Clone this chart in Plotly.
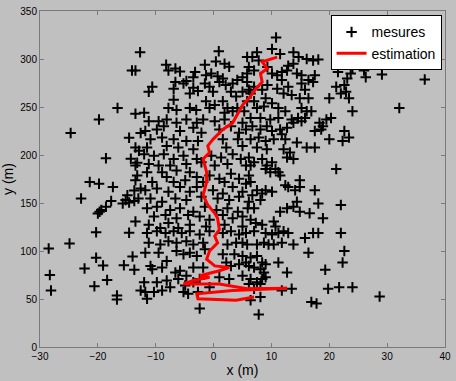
import plotly.graph_objects as go

# measured points (x, y) in metres
mesures = [
(-12.7,307),(-14.1,288),(-13.5,288),(-11.2,266),(-16.6,249),(-13.5,243),(-12.0,244),(-19.8,237),
(0.9,308),(0.4,297.5),(-8.2,294),(-6.6,290),(-5.8,287),(-7.8,288),(-1.5,294),(1.9,295),(2.7,292),(-3.2,286.5),(-0.4,285),(0.7,282),(1.6,279.6),(-3.5,281),(-1.3,283),(-10.6,271),(-6.6,276),(-5.2,274.5),(-4.7,277),(-6.9,269),(-3.5,270),(-2.7,266.7),(-4.1,264),(-1.5,274.5),(-0.7,271),(-0.1,266),(1.0,276),(2.1,273),(3.3,274.5),(4.1,278),(5.0,281),(3.0,266),(3.9,261),(5.0,266),(6.1,268),(-6.9,257.5),(-7.8,249),(-6.4,247),(-4.1,249),(-3.0,247),(-1.3,256),(-0.7,249),(0.2,252),(1.6,256),(2.4,249),(3.3,245.5),(1.9,244),(4.1,249),(5.3,245.5),(5.8,256),
(10.8,322.5),(10.1,310.5),(11.5,305.3),(13.8,307),(7.5,307),(6.7,302),(7.8,298.5),(14.7,302),(16.1,300),(17.2,298.5),(18.1,299.6),(12.9,293),(13.8,295),(12.7,288),(5.8,302),(6.1,291.7),(7.0,288),(5.8,285),(9.3,291.7),(10.1,285),(11.0,283),(11.8,286.5),(11.8,278),(14.4,285),(15.2,283),(16.4,278),(15.2,274.5),(17.5,283),(17.2,276),(21.5,286.5),(22.9,295),(24.0,290),(9.3,273),(8.4,268),(7.0,271),(11.0,269),(12.9,271),(12.1,264),(13.5,262.6),(15.8,268),(14.9,259),(16.4,259),(21.2,271),(22.6,273),(22.9,266),(22.0,264),(20.0,259),(9.0,259),(10.1,254),(8.7,250.6),(7.0,256),(7.5,249),(11.2,249),(12.4,245.5),(15.2,249),(16.1,245.5),(16.9,245.5),(24.0,245.5),(5.8,276),(6.4,264),
(24.6,301),(25.7,303),(26.8,305),(23.7,285),(23.1,279.6),(26.0,288),(26.3,281),(29.1,283.8),(36.5,278.6),(23.4,259),(32.1,249),
(-24.7,223),(-14.6,218),(-12.6,223),(-13.5,207.8),(-12.9,204.4),(-18.6,196.5),(-14.3,196),(-13.2,192),(-13.5,189),(-13.2,178.7),(-13.5,173.6),(-21.4,171.8),(-19.8,170),(-17.4,166.7),(-13.7,163),(-12.6,165),(-22.9,154.8),(-17.7,152),(-14.9,158),(-15.2,153),(-15.7,149.6),(-14.6,150.6),(-13.7,152),(-13.0,154.8),(-19.7,141),(-20.0,139),(-19.4,142.7),(-18.6,146),(-13.5,130.7),(-20.3,119.5),(-14.6,119),
(-11.2,235.2),(-9.5,235.2),(-8.1,236.9),(-6.4,233.5),(-4.7,236.9),(-2.9,233.5),(-1.8,236.9),(0.2,235.2),(1.9,236.9),(5.0,233.5),
(-11.8,224.9),(-9.8,226.6),(-8.6,230),(-5.8,224.9),(-3.5,228.3),(-2.1,223.2),(1.0,226.6),(3.0,230),(4.4,223.2),(5.6,226.6),
(-10.9,216.3),(-8.9,218.1),(-6.9,216.3),(-4.7,214.6),(-2.7,214.6),(1.6,216.3),(4.2,216.3),(-11.5,207.8),(-8.1,209.5),(-6.1,207.8),(-3.5,206.1),(2.2,207.8),(5.0,209.5),
(-12.0,200.9),(-10.3,199.2),(-8.6,200.9),(-6.9,195.8),(-5.2,199.2),(-2.9,195.8),(-0.4,199.2),(1.3,197.5),(3.3,200.9),(4.7,195.8),(-11.2,190.7),(-9.5,189),(-7.5,189),(-4.7,190.7),(-2.1,192.4),(0.2,189),(2.4,190.7),(5.6,189),
(-11.5,182.1),(-8.9,182.1),(-8.1,177),(-6.4,183.8),(-4.1,182.1),(-2.9,177),(-0.7,178.7),(1.0,175.3),(3.0,180.4),(4.4,175.3),(6.1,178.7),(-10.6,171.8),(-6.9,171.8),(-4.9,173.6),(-1.8,171.8),(1.9,171.8),(5.6,170.1),
(-11.8,163.3),(-9.8,165),(-7.8,161.6),(-5.8,166.7),(-4.1,161.6),(-2.9,166.7),(-0.1,163.3),(1.6,159.9),(3.3,166.7),(5.0,161.6),(-10.9,154.7),(-8.9,151.3),(-6.6,154.7),(-4.7,153),(-2.1,156.4),(0.7,154.7),(2.7,153),(4.4,156.4),
(-11.5,144.5),(-9.8,146.2),(-7.5,142.7),(-5.8,144.5),(-3.5,141),(-1.5,146.2),(0.5,142.7),(2.4,144.5),(4.2,141),(5.9,144.5),(-10.3,135.9),(-8.3,137.6),(-6.4,134.2),(-4.4,137.6),(-2.4,135.9),(-0.7,132.5),(1.6,137.6),(3.3,134.2),(5.0,135.9),
(-11.2,127.3),(-9.2,123.9),(-7.8,129.1),(-6.1,123.9),(-4.1,127.3),(-1.3,125.6),(1.9,127.3),(5.0,125.6),
(6.4,238.6),(8.1,238.6),(9.8,236.9),(11.2,238.6),(13.5,236.9),(14.6,238.6),(15.8,238.6),(18.3,233.5),(19.5,236.9),(20.3,238.6),
(6.7,230),(8.1,226.6),(9.2,230),(10.1,224.9),(11.5,226.6),(12.7,228.3),(13.8,233.5),(15.2,235.2),(17.5,224.9),(18.6,226.6),(18.9,230),(22.6,224.9),(23.4,218.1),(22.3,214.6),
(6.4,216.3),(7.8,218.1),(9.0,214.6),(10.4,216.3),(11.8,221.5),(12.4,216.3),(14.4,212.9),(16.1,207.8),(17.5,207.8),(20.0,216.3),
(7.5,207.8),(9.2,206.1),(12.1,206.1),(13.2,202.6),(13.8,195.8),(12.7,197.5),
(6.1,197.5),(7.0,192.4),(6.4,189),(8.4,195.8),(9.2,189),(10.1,192.4),(10.7,185.5),(11.2,182.1),(11.5,178.7),(9.0,185.5),(9.8,182.1),
(21.2,185.5),
(6.4,171.8),(7.5,163.3),(8.4,159.9),(9.0,163.3),(10.1,161.6),(6.7,158.2),(12.4,168.4),(12.9,166.7),(14.1,163.3),(14.9,173.6),(14.9,166.7),(17.5,163.3),(18.1,149.6),(22.0,147.9),
(6.1,151.3),(7.0,144.5),(8.1,153),(11.5,141),(12.7,144.5),(13.8,146.2),(14.4,151.3),(14.9,141),(16.6,139.3),(18.9,134.2),
(6.4,132.5),(7.3,129.1),(8.4,127.3),(10.4,130.8),(10.7,125.6),
(-28.5,102.7),(-24.9,107.8),(-20.3,93),(-19.1,85),(-22.3,81.9),(-28.3,75),(-28.1,58.9),(-15.5,85.2),(-14.0,94.2),(-13.7,80.4),(-18.4,69.8),(-20.6,63.4),(-16.7,53.7),(-16.7,49.6),(-12.6,58.9),(-11.8,57.2),
(-11.5,118.8),(-9.8,120.5),(-8.3,118.8),(-6.9,120.5),(-5.5,118.8),(-4.1,120.5),(-2.4,117.1),(-0.7,120.5),(1.6,118.8),(3.0,120.5),(4.4,117.1),(5.6,118.8),
(-11.2,108.5),(-9.2,106.8),(-7.8,110.2),(-6.4,108.5),(-4.7,110.2),(-3.5,106.8),(-1.8,108.5),(2.4,106.8),(3.9,108.5),(5.0,108.5),
(-11.8,98.2),(-9.5,98.2),(-8.1,89.7),(-6.4,100),(-5.2,96.5),(-4.1,98.2),(-2.9,94.8),(-1.5,101.7),(1.6,96.5),(3.6,96.5),(5.0,94.8),
(-10.6,81.1),(-10.9,84.5),(-8.9,82.8),(-6.6,77.7),(-5.8,79.4),(-4.7,74.3),(-3.5,82.8),(-1.8,82.8),(2.2,88),(3.0,84.5),(4.4,86.3),(5.6,88),
(-12.0,67.4),(-9.8,67.4),(-8.1,69.2),(-7.5,62.3),(-6.1,70.9),(-4.9,64),(-3.5,67.4),(-2.4,70.9),(1.0,72.6),(2.7,70.9),(5.0,74.3),(6.1,65.7),
(-11.5,50.3),(-10.3,57.2),(-8.9,58.9),(-5.2,57.2),(-4.4,55.5),(-2.7,57.2),(-0.7,62.3),
(-2.4,40.0),
(7.0,120.5),(9.0,118.8),(10.1,117.1),(11.2,118.8),(12.1,120.5),(12.9,118.8),(15.8,113.6),(17.2,118.8),(18.1,118.8),(22.0,118.8),
(5.8,106.8),(7.5,106.8),(8.7,108.5),(9.5,106.8),(10.4,106.8),(11.8,108.5),(13.8,106.8),(16.4,98.2),(22.6,100),(22.3,88),
(6.4,93.1),(7.5,94.8),(8.4,88),(9.0,86.3),(11.2,88),(6.1,84.5),(7.0,82.8),(8.1,81.1),(8.7,77.7),(12.7,77.7),(19.3,80.4),
(6.4,70.9),(7.5,67.4),(8.4,70.9),(9.0,72.6),(8.1,65.7),(7.0,60.6),
(11.8,58.9),(13.5,60.6),(19.8,60.6),(21.7,62.3),(24.0,62.3),
(8.1,52),(6.4,48.6),(16.9,46.9),(17.8,45.2),
(7.8,33.9),
(28.7,52.7),
]

# estimated trajectory (x, y) in metres
estimation = [
(7.0,52),(3.9,48.6),(-2.7,50.3),(-2.9,55.5),(3.3,58.9),(12.7,61.3),(5.8,60.6),(1.0,65.7),
(-5.2,65.7),(-3.5,69.2),(-0.7,72.6),(-2.4,74.3),(1.0,79.4),(2.7,82.8),(0.2,84.5),(-1.2,91.4),
(-0.7,100),(0.7,108.5),(0.2,115.4),(1.0,122.2),(0.7,134.2),(0.2,139.3),(-1.0,147.9),(-1.8,158.2),
(-1.2,171.8),(-1.2,182.1),(-1.5,189),(-1.8,195.8),(-0.7,202.6),(-1.0,209.5),(-0.1,216.3),(1.6,226.6),
(3.3,233.5),(3.9,240.3),(5.0,252),(6.1,259),(7.3,269),(8.4,276),(8.1,285),(9.3,290),(8.4,297),(11.0,302),
]

x_ticks = [-30, -20, -10, 0, 10, 20, 30, 40]
y_ticks = [0, 50, 100, 150, 200, 250, 300, 350]

mx = [p[0] for p in mesures]
my = [p[1] for p in mesures]
ex = [p[0] for p in estimation]
ey = [p[1] for p in estimation]

FONT = "Liberation Sans, Arial, sans-serif"
BG = "#c0c0c0"
AX = "#7a7a7a"

fig = go.Figure()
fig.add_trace(go.Scatter(
    x=mx, y=my, mode="markers", name="mesures",
    marker=dict(symbol="cross-thin", size=7.5, color="black",
                line=dict(width=2, color="black")),
))
fig.add_trace(go.Scatter(
    x=ex, y=ey, mode="lines", name="estimation",
    line=dict(color="#ff0000", width=3),
))

axis_common = dict(
    showline=True, linecolor=AX, linewidth=1, mirror="ticks",
    ticks="inside", ticklen=4, tickcolor=AX, tickwidth=1,
    showgrid=False, zeroline=False,
    tickfont=dict(family=FONT, size=10, color="black"),
)

fig.update_layout(
    width=456, height=381,
    margin=dict(l=40, r=5, t=10, b=32),
    paper_bgcolor=BG, plot_bgcolor=BG,
    font=dict(family=FONT, color="black"),
    xaxis=dict(range=[-30, 40], tickvals=x_ticks,
               title=dict(text="x (m)", font=dict(size=14), standoff=4),
               **axis_common),
    yaxis=dict(range=[0, 350], tickvals=y_ticks,
               title=dict(text="y (m)", font=dict(size=14), standoff=4),
               **axis_common),
    legend=dict(x=0.9915, xanchor="right", y=0.987, yanchor="top",
                bgcolor="white", bordercolor="black", borderwidth=1,
                font=dict(family=FONT, size=14, color="black"),
                tracegroupgap=0),
    showlegend=True,
)

fig.write_html("out.html")
